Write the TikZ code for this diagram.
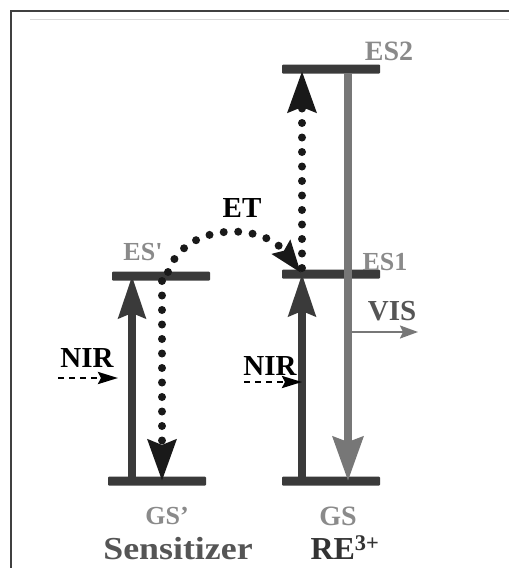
\documentclass[tikz,border=0pt]{standalone}
\usepackage{fontspec}
\setmainfont{Liberation Serif}
\usetikzlibrary{arrows.meta}
\definecolor{bardark}{HTML}{3A3A3A}
\definecolor{lblgray}{HTML}{8A8A8A}
\definecolor{visgray}{HTML}{777777}
\definecolor{txtdark}{HTML}{555555}
\tikzset{
  bar/.style={fill=bardark, draw=none, rounded corners=1pt, minimum height=9pt, minimum width=98pt, inner sep=0pt},
  lbl/.style={font=\bfseries\fontsize{26}{28}\selectfont, text=lblgray, inner sep=0pt},
  blk/.style={font=\bfseries\fontsize{29}{31}\selectfont, text=black, inner sep=0pt},
  solidup/.style={draw=bardark, line width=7.5pt, -{Stealth[length=42pt,width=27pt,inset=5pt]}},
  dotline/.style={draw=black!90, line width=8pt, line cap=round, dash pattern=on 0pt off 14.5pt},
  dotarrow/.style={dotline, -{Stealth[length=41pt,width=28pt,inset=5pt]}},
  visdown/.style={draw=visgray, line width=8pt, -{Stealth[length=44pt,width=30pt,inset=5pt]}},
  nirarrow/.style={draw=black, line width=2.8pt, dash pattern=on 6pt off 5pt, -{Stealth[length=20pt,width=12pt,inset=3pt]}},
}
\begin{document}
\begin{tikzpicture}[x=1pt,y=-1pt]
\useasboundingbox (0,0) rectangle (509,568);
% frame
\draw[draw=black!75, line width=1.5pt] (11,568) -- (11,11) -- (509,11);
\draw[draw=black!15, line width=1pt] (30,19) -- (509,19);
% levels
\node[bar] (ES2) at (331,69) {};
\node[bar] (ESp) at (161,276) {};
\node[bar] (ES1) at (331,274) {};
\node[bar] (GSp) at (157,481) {};
\node[bar] (GS)  at (331,481) {};
% coordinates
\coordinate (a0) at (132,481);
\coordinate (a1) at (132,276);
\coordinate (b0) at (162,281);
\coordinate (b1) at (162,481);
\coordinate (c0) at (302,481);
\coordinate (c1) at (302,274);
\coordinate (d0) at (302,268);
\coordinate (d1) at (302,71);
\coordinate (e0) at (348,73);
\coordinate (e1) at (348,481);
\coordinate (f0) at (352,332);
\coordinate (f1) at (418,332);
\coordinate (g0) at (168,272);
\coordinate (g1) at (301,273);
\coordinate (h0) at (58,378);
\coordinate (h1) at (118,378);
\coordinate (k0) at (244,382);
\coordinate (k1) at (302,382);
% arrows
\draw[solidup] (a0) -- (a1);
\draw[dotarrow] (b0) -- (b1);
\draw[solidup] (c0) -- (c1);
\draw[dotarrow] (d0) -- (d1);
\draw[visdown] (e0) -- (e1);
\draw[draw=visgray, line width=2pt, -{Stealth[length=18pt,width=13pt,inset=3pt]}] (f0) -- (f1);
\draw[dotline, -{Stealth[length=32pt,width=22pt,inset=4pt]}] (g0) .. controls (185,222) and (262,222) .. (g1);
\draw[nirarrow] (h0) -- (h1);
\draw[nirarrow] (k0) -- (k1);
% labels
\node[lbl, font=\bfseries\fontsize{28}{30}\selectfont] (tES2) at (389,51) {ES2};
\node[lbl] (tESp) at (143,252) {ES\textquotesingle};
\node[lbl] (tES1) at (385,262) {ES1};
\node[blk] (tET) at (242,208) {ET};
\node[blk, text=txtdark] (tVIS) at (392,311) {VIS};
\node[blk] (tNIRa) at (87,358) {NIR};
\node[blk] (tNIRb) at (270,366) {NIR};
\node[lbl, font=\bfseries\fontsize{26}{28}\selectfont] (tGSp) at (167,516) {GS’};
\node[lbl, font=\bfseries\fontsize{28}{30}\selectfont] (tGS) at (338,516) {GS};
\node[inner sep=0pt, text=txtdark, font=\bfseries\fontsize{32}{34}\selectfont] (tSens) at (178,549) {\scalebox{1.12}[1]{Sensitizer}};
\node[inner sep=0pt, text=black!80, font=\bfseries\fontsize{32}{34}\selectfont] (tRE) at (345,548) {RE\textsuperscript{3+}};
\end{tikzpicture}
\end{document}
